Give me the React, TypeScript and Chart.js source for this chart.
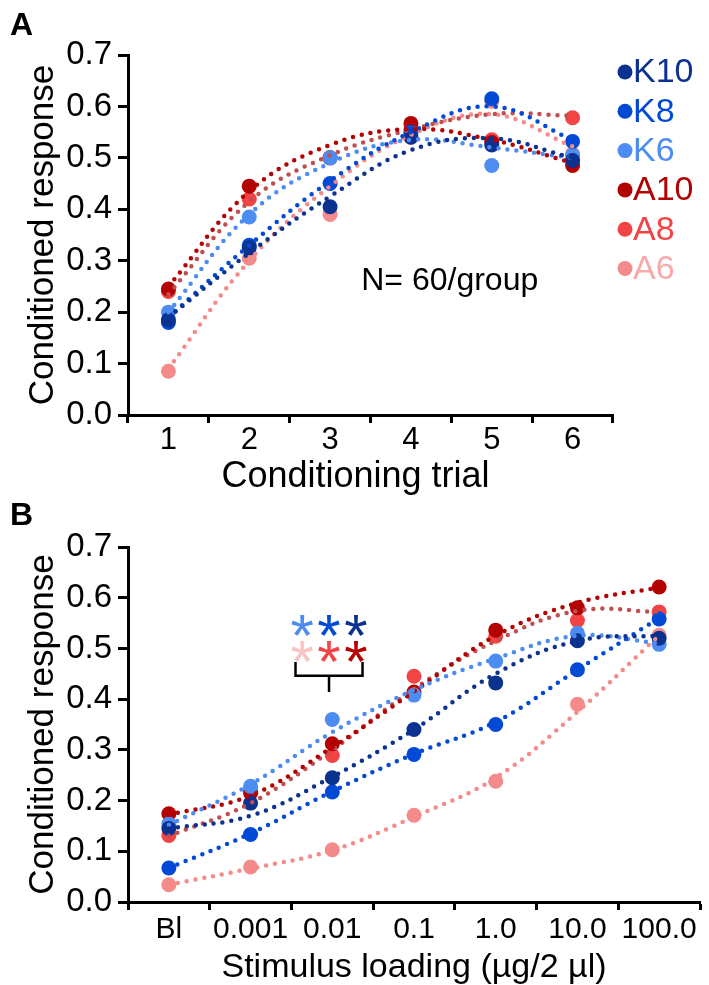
import React, { useEffect, useRef } from 'react';
import { Chart, registerables } from 'chart.js';

Chart.register(...registerables);

const FONT = "'Liberation Sans', Arial, Helvetica, sans-serif";

// ---- Groups ----
const groupNames = ['K10', 'K8', 'K6', 'A10', 'A8', 'A6'];
const pointColors = ['#0c3290', '#0249d6', '#4d8df1', '#b30202', '#f24444', '#f48a8a'];
const fitColors = ['#0c3290', '#0249d6', '#4d8df1', '#b30202', '#c04f4f', '#f48a8a'];
const legendTextColors = ['#0c3290', '#0249d6', '#4d8df1', '#b30202', '#f24444', '#f7aaaa'];

// ---- Panel A: Conditioning trial ----
const trialLabels = ['1', '2', '3', '4', '5', '6'];
const trialK10 = [0.185, 0.325, 0.405, 0.54, 0.525, 0.495];
const trialK8 = [0.18, 0.33, 0.45, 0.55, 0.615, 0.532];
const trialK6 = [0.2, 0.385, 0.5, 0.545, 0.485, 0.505];
const trialA10 = [0.245, 0.445, 0.5, 0.567, 0.53, 0.485];
const trialA8 = [0.24, 0.42, 0.5, 0.555, 0.535, 0.578];
const trialA6 = [0.085, 0.305, 0.39, 0.54, 0.61, 0.508];
// fitted trend curves
const trialFitK10 = [0.19, 0.315, 0.425, 0.515, 0.538, 0.5];
const trialFitK8 = [0.19, 0.33, 0.455, 0.55, 0.6, 0.535];
const trialFitK6 = [0.2, 0.39, 0.49, 0.535, 0.52, 0.5];
const trialFitA10 = [0.25, 0.435, 0.525, 0.556, 0.535, 0.49];
const trialFitA8 = [0.235, 0.415, 0.505, 0.555, 0.585, 0.582];
const trialFitA6 = [0.09, 0.3, 0.445, 0.545, 0.585, 0.522];

// ---- Panel B: Stimulus loading ----
const doseLabels = ['Bl', '0.001', '0.01', '0.1', '1.0', '10.0', '100.0'];
const doseK10 = [0.145, 0.195, 0.245, 0.34, 0.432, 0.515, 0.52];
const doseK8 = [0.067, 0.133, 0.217, 0.291, 0.35, 0.458, 0.558];
const doseK6 = [0.154, 0.228, 0.36, 0.408, 0.475, 0.53, 0.508];
const doseA10 = [0.174, 0.215, 0.312, 0.414, 0.536, 0.58, 0.621];
const doseA8 = [0.131, 0.22, 0.289, 0.445, 0.524, 0.555, 0.572];
const doseA6 = [0.034, 0.069, 0.103, 0.171, 0.238, 0.39, 0.526];
const doseFitK10 = [0.145, 0.17, 0.247, 0.34, 0.45, 0.515, 0.525];
const doseFitK8 = [0.067, 0.135, 0.218, 0.292, 0.355, 0.458, 0.56];
const doseFitK6 = [0.152, 0.232, 0.335, 0.418, 0.48, 0.525, 0.51];
const doseFitA10 = [0.172, 0.21, 0.305, 0.415, 0.525, 0.59, 0.62];
const doseFitA8 = [0.13, 0.195, 0.3, 0.42, 0.515, 0.574, 0.572];
const doseFitA6 = [0.034, 0.066, 0.102, 0.168, 0.245, 0.375, 0.526];

// significance marks (panel B): colours per row
const starRowTop = ['#4d8df1', '#0249d6', '#0c3290'];
const starRowBottom = ['#f9c4c4', '#f24444', '#b30202'];

function buildDatasets(points: number[][], fits: number[][]) {
  const pointSets = points.map((data, i) => ({
    type: 'line',
    label: groupNames[i],
    data,
    showLine: false,
    pointRadius: 7.5,
    pointHoverRadius: 7.5,
    pointBackgroundColor: pointColors[i],
    pointBorderColor: pointColors[i],
    pointBorderWidth: 0,
    order: 1,
    clip: false,
  }));
  const fitSets = fits.map((data, i) => ({
    type: 'line',
    label: groupNames[i] + ' fit',
    data,
    borderColor: fitColors[i],
    backgroundColor: fitColors[i],
    borderWidth: 4.5,
    borderDash: [0, 9],
    borderCapStyle: 'round',
    tension: 0.4,
    pointRadius: 0,
    pointHoverRadius: 0,
    fill: false,
    order: 0,
    clip: false,
  }));
  return [...pointSets, ...fitSets];
}

function yAxis() {
  return {
    min: 0,
    max: 0.7,
    ticks: {
      stepSize: 0.1,
      callback: (v: any) => Number(v).toFixed(1),
      font: { family: FONT, size: 33, lineHeight: 1 },
      color: '#000',
      padding: 6,
    },
    grid: { drawOnChartArea: false, drawTicks: true, tickLength: 10, tickWidth: 3, color: '#000' },
    border: { display: true, width: 3, color: '#000' },
    title: {
      display: true,
      text: 'Conditioned response',
      font: { family: FONT, size: 35, lineHeight: 1 },
      color: '#000',
      padding: { top: 26, bottom: 0 },
    },
    afterFit: (s: any) => {
      s.width = 128;
    },
  };
}

function xAxis(labels: string[], title: string, titleSize: number, tickSize: number, tickPad: number, titlePad: number, height: number) {
  return {
    type: 'category',
    labels,
    offset: true,
    ticks: {
      font: { family: FONT, size: tickSize, lineHeight: 1 },
      color: '#000',
      padding: tickPad,
      maxRotation: 0,
      autoSkip: false,
    },
    grid: { offset: true, drawOnChartArea: false, drawTicks: true, tickLength: 8, tickWidth: 3, color: '#000' },
    border: { display: true, width: 3, color: '#000' },
    title: {
      display: true,
      text: title,
      font: { family: FONT, size: titleSize, lineHeight: 1 },
      color: '#000',
      padding: { top: 0, bottom: titlePad },
    },
    afterFit: (s: any) => {
      s.height = height;
    },
  };
}

function drawPanelLetter(ctx: CanvasRenderingContext2D, letter: string) {
  ctx.save();
  ctx.font = `bold 32px ${FONT}`;
  ctx.fillStyle = '#000';
  ctx.textAlign = 'left';
  ctx.textBaseline = 'alphabetic';
  ctx.fillText(letter, 10, 35);
  ctx.restore();
}

const panelAPlugin = {
  id: 'panelAExtras',
  afterDraw(chart: any) {
    const { ctx, chartArea, scales } = chart;
    drawPanelLetter(ctx, 'A');
    // legend
    ctx.save();
    ctx.font = `34px ${FONT}`;
    ctx.textBaseline = 'middle';
    ctx.textAlign = 'left';
    groupNames.forEach((name, i) => {
      const y = chartArea.top + 17 + i * 39.3;
      const x = chartArea.right + 12;
      ctx.fillStyle = pointColors[i];
      ctx.beginPath();
      ctx.arc(x, y, 7.5, 0, Math.PI * 2);
      ctx.fill();
      ctx.fillStyle = legendTextColors[i];
      ctx.fillText(name, x + 8, y + 1);
    });
    // N label
    ctx.font = `32px ${FONT}`;
    ctx.fillStyle = '#000';
    ctx.textAlign = 'center';
    ctx.fillText('N= 60/group', scales.x.getPixelForValue(3.48), scales.y.getPixelForValue(0.26));
    ctx.restore();
  },
};

const panelBPlugin = {
  id: 'panelBExtras',
  afterDraw(chart: any) {
    const { ctx, scales } = chart;
    drawPanelLetter(ctx, 'B');
    const xs = scales.x;
    const ys = scales.y;
    const center = 1.96;
    const step = 0.33;
    ctx.save();
    ctx.font = `60px ${FONT}`;
    ctx.textAlign = 'center';
    ctx.textBaseline = 'alphabetic';
    const m = ctx.measureText('*');
    const shift = (m.actualBoundingBoxAscent - m.actualBoundingBoxDescent) / 2;
    const rows: [string[], number][] = [
      [starRowTop, 0.546],
      [starRowBottom, 0.493],
    ];
    rows.forEach(([cols, val]) => {
      cols.forEach((c, j) => {
        ctx.fillStyle = c;
        const x = xs.getPixelForValue(center + (j - 1) * step);
        ctx.fillText('*', x, ys.getPixelForValue(val) + shift);
      });
    });
    // bracket
    ctx.strokeStyle = '#000';
    ctx.lineWidth = 2.5;
    ctx.lineCap = 'butt';
    const xl = xs.getPixelForValue(center - 0.41);
    const xr = xs.getPixelForValue(center + 0.41);
    const xc = xs.getPixelForValue(center);
    const yTop = ys.getPixelForValue(0.473);
    const yMid = ys.getPixelForValue(0.446);
    const yBot = ys.getPixelForValue(0.414);
    ctx.beginPath();
    ctx.moveTo(xl, yTop);
    ctx.lineTo(xl, yMid);
    ctx.lineTo(xr, yMid);
    ctx.lineTo(xr, yTop);
    ctx.moveTo(xc, yMid);
    ctx.lineTo(xc, yBot);
    ctx.stroke();
    ctx.restore();
  },
};

function configA(): any {
  return {
    type: 'line',
    data: {
      labels: trialLabels,
      datasets: buildDatasets(
        [trialK10, trialK8, trialK6, trialA10, trialA8, trialA6],
        [trialFitK10, trialFitK8, trialFitK6, trialFitA10, trialFitA8, trialFitA6]
      ),
    },
    options: {
      responsive: false,
      animation: false,
      devicePixelRatio: 1,
      layout: { padding: { top: 55, right: 96, left: 0, bottom: 0 } },
      plugins: { legend: { display: false }, tooltip: { enabled: false } },
      scales: {
        x: xAxis(trialLabels, 'Conditioning trial   ', 36, 31, 1.5, 0, 80),
        y: yAxis(),
      },
    },
    plugins: [panelAPlugin],
  };
}

function configB(): any {
  return {
    type: 'line',
    data: {
      labels: doseLabels,
      datasets: buildDatasets(
        [doseK10, doseK8, doseK6, doseA10, doseA8, doseA6],
        [doseFitK10, doseFitK8, doseFitK6, doseFitA10, doseFitA8, doseFitA6]
      ),
    },
    options: {
      responsive: false,
      animation: false,
      devicePixelRatio: 1,
      layout: { padding: { top: 57, right: 9, left: 0, bottom: 0 } },
      plugins: { legend: { display: false }, tooltip: { enabled: false } },
      scales: {
        x: xAxis(doseLabels, 'Stimulus loading (µg/2 µl)', 34, 30, 5, 0, 83),
        y: yAxis(),
      },
    },
    plugins: [panelBPlugin],
  };
}

function ChartCanvas({ makeConfig, top, height }: { makeConfig: () => any; top: number; height: number }) {
  const ref = useRef<HTMLCanvasElement | null>(null);
  useEffect(() => {
    if (!ref.current) return;
    const chart = new Chart(ref.current, makeConfig());
    return () => chart.destroy();
  }, [makeConfig]);
  return (
    <canvas
      ref={ref}
      width={709}
      height={height}
      style={{ position: 'absolute', left: 0, top, width: 709, height }}
    />
  );
}

export default function App() {
  return (
    <div style={{ position: 'absolute', left: 0, top: 0, width: 709, height: 985, background: '#fff', overflow: 'hidden' }}>
      <ChartCanvas makeConfig={configA} top={0} height={495} />
      <ChartCanvas makeConfig={configB} top={490} height={495} />
    </div>
  );
}
